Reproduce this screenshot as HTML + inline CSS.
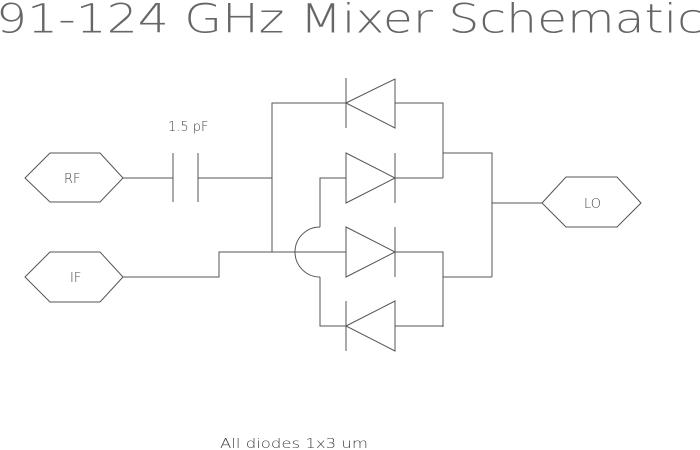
<!DOCTYPE html>
<html><head><style>body{margin:0;background:#fff}svg{display:block}</style></head><body>
<svg width="700" height="450" xmlns="http://www.w3.org/2000/svg">
<text x="-4" y="31" font-family="DejaVu Sans, sans-serif" font-weight="200" font-size="38" fill="#666" textLength="708" lengthAdjust="spacingAndGlyphs" transform="scale(1,1.05)">91-124 GHz Mixer Schematic</text>
<g fill="none" stroke="#555" stroke-width="1">
<polygon points="25,178 50,153 100,153 123,178 100,202 50,202"/>
<polygon points="25,277 50,252 100,252 123,277 100,302 50,302"/>
<polygon points="542,203 566,177 617,177 641,203 617,227 566,227"/>
<path d="M123,178H173M173,153V202M198,153V202M198,178H272"/>
<path d="M123,277H219V252H346M272,252V103H346"/>
<path d="M346,78V128M346,103L395,79V128Z M395,103H443V178M395,178H443M443,153H492V277M492,203H542"/>
<path d="M320,227V178H346M346,153V203L395,178Z M395,153V203"/>
<path d="M346,227V277L395,252Z M395,227V277M395,252H443V327M443,277H492"/>
<path d="M320,227A25,25 0 0 0 320,277"/>
<path d="M320,277V326H346M346,301V351M346,326L395,301V351Z M395,326H443"/>
</g>
<g font-family="DejaVu Sans, sans-serif" font-weight="200" fill="#444" font-size="13">
<text x="64" y="183">RF</text>
<text x="70" y="282">IF</text>
<text x="584" y="208">LO</text>
<text x="168" y="131">1.5 pF</text>
<text x="220" y="448" textLength="148" lengthAdjust="spacingAndGlyphs">All diodes 1x3 um</text>
</g>
</svg>
</body></html>
